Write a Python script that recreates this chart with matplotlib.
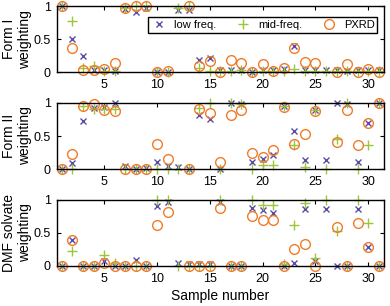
import numpy as np
import matplotlib
matplotlib.use("Agg")
import matplotlib.pyplot as plt

plt.rcParams['font.family'] = ['Liberation Sans', 'DejaVu Sans']
plt.rcParams['font.size'] = 10

nan = np.nan
samples = np.arange(1, 32)

# Form I weighting
form1_low = [1, 0.5, 0.24, 0.04, 0.03, 0.02, 0.95, 0.91, 0.97, 0, 0, 0.94, 0.94, 0.18, 0.21, 0.03,
             0.03, 0.03, 0, 0.03, 0.03, 0.05, 0.40, 0.03, 0.03, 0.03, 0.03, 0.02, 0.03, 0.03, 0.03]
form1_mid = [1, 0.78, 0.07, 0.09, 0.02, 0.02, 0.97, 1.0, 1.0, 0, 0, 0.97, 1.0, 0.07, 0.02, 0.02,
             0.02, 0.03, 0, 0.02, 0.02, 0.02, 0.05, 0.02, 0.02, 0.02, 0.02, 0.02, 0.02, 0.02, 0.02]
form1_pxrd = [1, 0.37, 0.04, 0.04, 0.05, 0.14, 0.97, 1.0, 1.0, 0, 0.02, nan, 1.0, 0.10, 0.17, 0,
              0.19, 0.14, 0, 0.12, 0.02, 0.07, 0.37, 0.15, 0.14, nan, 0, 0.12, 0.01, 0.05, 0.01]

# Form II weighting
form2_low = [0, 0.10, 0.73, 0.93, 0.94, 1.0, 0.05, 0, 0.01, 0.11, 0.05, 0.04, 0, 0.81, 0.76, 0,
             1.0, 0.99, 0.11, 0.16, 0.21, 0.96, 0.57, 0.14, 0.89, 0.14, 1.0, 0.99, 0.11, 0.69, 1.0]
form2_mid = [0, 0, 0.95, 0.91, 0.91, 0.91, 0, 0, 0, 0, 0, 0, 0, 0.93, 1.0, 0,
             1.0, 0.98, 0, 0.07, 0.07, 0.96, 0.36, 0.04, 0.89, 0, 0.46, 1.0, 0, 0.36, 1.0]
form2_pxrd = [0, 0.23, 0.96, 0.98, 0.90, 0.88, 0, 0, 0, 0.38, 0.16, nan, 0, 0.91, 0.85, 0.11,
              0.82, 0.89, 0.24, 0.18, 0.29, 0.94, 0.38, 0.53, 0.88, nan, 0.41, 0.89, 0.36, 0.69, 1.0]

# DMF solvate weighting
dmf_low = [0, 0.39, 0, 0, 0.07, 0, 0, 0.09, 0, 0.91, 0.97, 0.04, 0.03, 0.03, 0.03, 0.97,
           0, 0, 0.87, 0.85, 0.80, 0, 0.04, 0.86, 0.08, 0.86, 0, 0, 0.86, 0.28, 0]
dmf_mid = [0, 0.22, 0, 0, 0.17, 0.05, 0, 0, 0, 1.0, 1.0, 0, 0, 0, 0, 1.0,
           0, 0, 1.0, 0.92, 0.92, 0.03, 0.61, 0.95, 0.12, 1.0, 0.52, 0, 1.0, 0.65, 0]
dmf_pxrd = [0, 0.39, 0, 0, 0.05, 0, 0, 0, 0, 0.62, 0.82, nan, 0, 0, 0, 0.87,
            0, 0, 0.75, 0.70, 0.70, 0, 0.25, 0.33, 0, nan, 0.59, 0, 0.65, 0.28, 0]

ylabels = ["Form I\nweighting", "Form II\nweighting", "DMF solvate\nweighting"]
panels = [(form1_low, form1_mid, form1_pxrd),
          (form2_low, form2_mid, form2_pxrd),
          (dmf_low, dmf_mid, dmf_pxrd)]

c_low = "#5a4ca6"
c_mid = "#9dc53c"
c_pxrd = "#f07c28"

fig, axes = plt.subplots(3, 1, figsize=(3.9, 3.06), dpi=100)
fig.subplots_adjust(left=0.145, right=0.985, top=0.98, bottom=0.131, hspace=0.46)

for ax, (low, mid, pxrd), lab in zip(axes, panels, ylabels):
    ax.plot(samples, low, 'x', color=c_low, ms=5, mew=1, clip_on=False, label="low freq.")
    ax.plot(samples, mid, '+', color=c_mid, ms=7, mew=1, clip_on=False, label="mid-freq.")
    ax.plot(samples, pxrd, 'o', mfc='none', mec=c_pxrd, ms=7, mew=1, clip_on=False, label="PXRD")
    ax.set_xlim(0.5, 31.5)
    ax.set_ylim(0, 1)
    ax.set_yticks([0, 0.5, 1])
    ax.set_yticklabels(["0", "0.5", "1"])
    ax.set_xticks([5, 10, 15, 20, 25, 30])
    ax.tick_params(direction='in', top=True, right=True, length=3, width=0.8, labelsize=9)
    ax.tick_params(axis='x', pad=5)
    ax.tick_params(axis='y', pad=4)
    for s in ax.spines.values():
        s.set_linewidth(1.0)
    ax.set_ylabel(lab, linespacing=1.12, fontsize=10)
    ax.yaxis.set_label_coords(-0.076, 0.5)

axes[2].set_xlabel("Sample number", labelpad=3, fontsize=10)

axes[0].legend(ncol=3, loc='center', bbox_to_anchor=(0.263, 0.597, 0.733, 0.239),
               mode='expand', fancybox=False, edgecolor='black', framealpha=1,
               handlelength=1.5, handletextpad=0.6, borderpad=0.25, columnspacing=1.0,
               fontsize=8)

plt.savefig("out.png", dpi=100)
